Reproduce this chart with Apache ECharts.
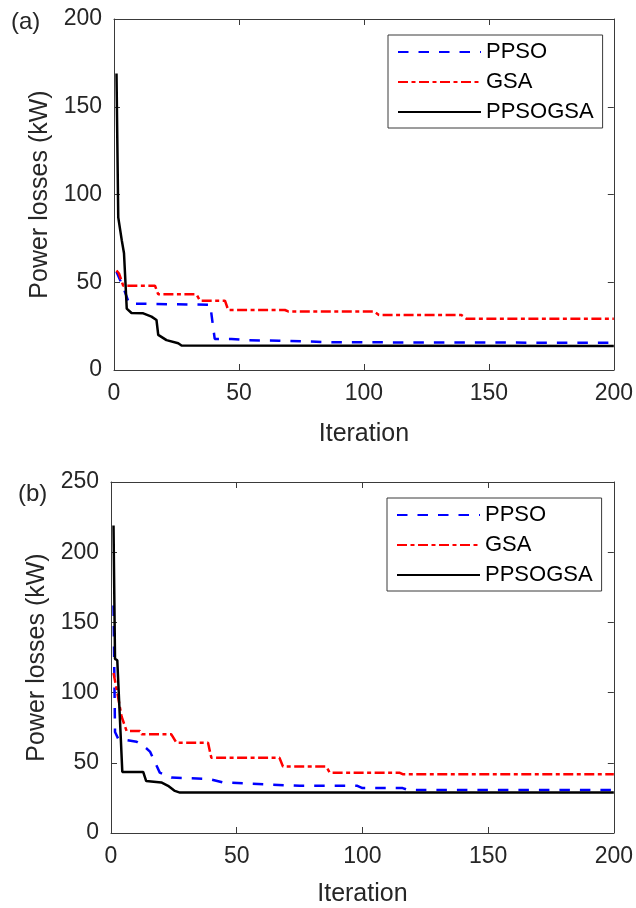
<!DOCTYPE html>
<html>
<head>
<meta charset="utf-8">
<script src="https://cdn.jsdelivr.net/npm/echarts@6/dist/echarts.min.js"></script>
<style>
html,body{margin:0;padding:0;background:#fff;}
#c{width:636px;height:908px;}
</style>
</head>
<body>
<div id="c"></div>
<script>
// ---- data (iteration, power losses kW) ----
const seriesNames = ['PPSO', 'GSA', 'PPSOGSA'];
const xTicks = [0, 50, 100, 150, 200];
const yTicksA = [0, 50, 100, 150, 200];
const yTicksB = [0, 50, 100, 150, 200, 250];

// (a)
const ppsoA = [[1,56],[4,46],[6,38],[7,37.8],[38.5,37.2],[40.3,17.7],[47,17.7],[54,16.9],[66,16.7],[88,15.8],[200,15.5]];
const gsaA = [[1,56.7],[2,55],[3.7,48],[16.4,48],[17.7,43.1],[33,43.1],[34.4,39.5],[44.4,39.5],[45.7,34.2],[68.4,34.2],[69.7,33.4],[104,33.4],[106,31.3],[139,31.3],[141,29.2],[200,29.2]];
const ppsogsaA = [[1,169],[1.7,87],[3.1,74],[4,66.5],[5.1,35],[7,32.5],[11.7,32.3],[15,30.4],[17,28.5],[17.7,20],[21,17],[25.7,15.2],[27,14],[200,13.7]];

// (b)
const ppsoB = [[1,162],[1.6,72],[2.9,67],[10.2,65],[13,62],[15.5,58],[19.4,43],[24,39.5],[39,38.5],[44.6,36],[75,33.6],[98,33.6],[100,32],[116,32],[118,30.7],[200,30.7]];
const gsaB = [[1,114],[2.5,100],[4.2,83],[6.2,72.7],[11.5,72.7],[12.2,70.3],[24,70.3],[26,64.3],[38.6,64.3],[39.9,53.6],[67,53.6],[68.4,47.4],[85.6,47.4],[87,43],[114.7,43],[116,41.9],[200,41.9]];
const ppsogsaB = [[1,219],[1.6,124],[2.5,123],[4.5,43.5],[12.8,43.5],[14,37],[20,36],[22.7,33.6],[25.4,30],[27.4,28.8],[200,28.8]];

// ---- styles ----
const FONT = '"Liberation Sans", Arial, sans-serif';
const TXT = '#262626';
const AX = '#3a3a3a';
const styles = {
  PPSO: {color: '#0000ff', width: 2.5, type: [10.5, 10]},
  GSA: {color: '#ff0000', width: 2.5, type: [10, 3.5, 4, 3.5]},
  PPSOGSA: {color: '#000000', width: 2.5, type: 'solid'}
};

function xAxes(gi, showLabels, pos, nameGap) {
  const base = {
    type: 'value', gridIndex: gi, min: 0, max: 200, interval: 50,
    axisLine: {show: true, onZero: false, lineStyle: {color: AX, width: 1}},
    axisTick: {show: true, inside: true, length: 6, lineStyle: {color: AX}},
    splitLine: {show: false},
    position: pos
  };
  if (showLabels) {
    base.axisLabel = {show: true, fontSize: 23, color: TXT, fontFamily: FONT, margin: 12};
    base.name = 'Iteration';
    base.nameLocation = 'middle';
    base.nameGap = nameGap;
    base.nameTextStyle = {fontSize: 25, color: TXT, fontFamily: FONT};
  } else {
    base.axisLabel = {show: false};
  }
  return base;
}
function yAxes(gi, max, showLabels, pos, nameGap) {
  const base = {
    type: 'value', gridIndex: gi, min: 0, max: max, interval: 50,
    axisLine: {show: true, onZero: false, lineStyle: {color: AX, width: 1}},
    axisTick: {show: true, inside: true, length: 6, lineStyle: {color: AX}},
    splitLine: {show: false},
    position: pos
  };
  if (showLabels) {
    base.axisLabel = {show: true, fontSize: 23, color: TXT, fontFamily: FONT, margin: 12};
    base.name = 'Power losses (kW)';
    base.nameLocation = 'middle';
    base.nameGap = nameGap;
    base.nameTextStyle = {fontSize: 25, color: TXT, fontFamily: FONT};
  } else {
    base.axisLabel = {show: false};
  }
  return base;
}

const dataA = {PPSO: ppsoA, GSA: gsaA, PPSOGSA: ppsogsaA};
const dataB = {PPSO: ppsoB, GSA: gsaB, PPSOGSA: ppsogsaB};
const series = [];
[[dataA, 0], [dataB, 2]].forEach(([d, ai]) => {
  seriesNames.forEach(n => {
    series.push({
      name: n, type: 'line', xAxisIndex: ai, yAxisIndex: ai,
      data: d[n], symbol: 'none', showSymbol: false, animation: false,
      lineStyle: styles[n], itemStyle: {color: styles[n].color}, clip: true
    });
  });
});

function legend(left, top) {
  return {
    orient: 'vertical', left: left, top: top, data: seriesNames,
    itemWidth: 83, itemHeight: 14, itemGap: 8,
    padding: [6, 9, 5, 9],
    borderColor: AX, borderWidth: 1, backgroundColor: '#fff',
    textStyle: {fontSize: 22, color: '#000', fontFamily: FONT},
    itemStyle: {opacity: 0},
    lineStyle: {opacity: 1},
    selectedMode: false
  };
}

const chart = echarts.init(document.getElementById('c'), null, {renderer: 'canvas'});
chart.setOption({
  animation: false,
  backgroundColor: '#fff',
  grid: [
    {left: 114, top: 19, width: 501, height: 351},
    {left: 111, top: 482, width: 504, height: 352}
  ],
  xAxis: [xAxes(0, true, 'bottom', 52), xAxes(0, false, 'top'), xAxes(1, true, 'bottom', 49), xAxes(1, false, 'top')],
  yAxis: [yAxes(0, 200, true, 'left', 60), yAxes(0, 200, false, 'right'), yAxes(1, 250, true, 'left', 57), yAxes(1, 250, false, 'right')],
  legend: [legend(388, 35), legend(387, 498)],
  graphic: [
    {type: 'text', left: 11, top: 10, style: {text: '(a)', fontSize: 24, fill: TXT, fontFamily: FONT}},
    {type: 'text', left: 18, top: 482, style: {text: '(b)', fontSize: 24, fill: TXT, fontFamily: FONT}}
  ],
  series: series
});
</script>
</body>
</html>
